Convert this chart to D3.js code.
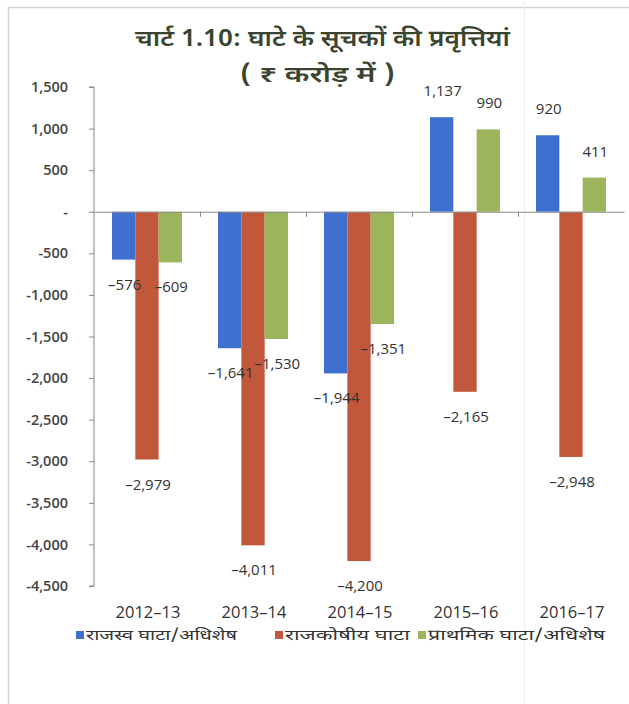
<!DOCTYPE html>
<html>
<head>
<meta charset="utf-8">
<script src="https://cdn.jsdelivr.net/npm/d3@7"></script>
<style>
  html, body { margin: 0; padding: 0; background: #fff; }
  svg { display: block; }
</style>
</head>
<body>
<svg id="chart" width="629" height="704"></svg>
<script>
const categories = ["2012-13", "2013-14", "2014-15", "2015-16", "2016-17"];
const seriesNames = ["राजस्व घाटा/अधिशेष", "राजकोषीय घाटा", "प्राथमिक घाटा/अधिशेष"];
const revenueDeficit = [-576, -1641, -1944, 1137, 920];
const fiscalDeficit = [-2979, -4011, -4200, -2165, -2948];
const primaryDeficit = [-609, -1530, -1351, 990, 411];
const yTicks = [1500, 1000, 500, 0, -500, -1000, -1500, -2000, -2500, -3000, -3500, -4000, -4500];
const titleLine1 = "चार्ट 1.10: घाटे के सूचकों की प्रवृत्तियां";
const titleLine2 = "( ₹  करोड़ में )";

const colors = ["#3f6fcf", "#c1583b", "#9cb45c"];
const seriesValues = [revenueDeficit, fiscalDeficit, primaryDeficit];

const svg = d3.select("#chart");
const hindiFont = "'Noto Sans Devanagari', 'Lohit Devanagari', 'Mukta', 'Noto Sans', sans-serif";
const numFont = "'Open Sans', 'Noto Sans', sans-serif";

// frame
svg.append("line").attr("x1", 8).attr("x2", 629).attr("y1", 7.5).attr("y2", 7.5)
  .attr("stroke", "#d4d4d4").attr("stroke-width", 1.5);
svg.append("line").attr("x1", 8.5).attr("x2", 8.5).attr("y1", 7).attr("y2", 704)
  .attr("stroke", "#d4d4d4").attr("stroke-width", 1.5);
svg.append("line").attr("x1", 524.5).attr("x2", 524.5).attr("y1", 0).attr("y2", 704)
  .attr("stroke", "#f0f0f0").attr("stroke-width", 1);

// title
svg.append("text").attr("x", 135).attr("y", 46)
  .attr("font-family", hindiFont).attr("font-size", 23).attr("font-weight", 600)
  .attr("fill", "#3b4430").attr("textLength", 375).attr("lengthAdjust", "spacingAndGlyphs")
  .text(titleLine1);
svg.append("text").attr("x", 240).attr("y", 82)
  .attr("font-family", hindiFont).attr("font-size", 23).attr("font-weight", 600)
  .attr("fill", "#3b4430").attr("textLength", 155).attr("lengthAdjust", "spacingAndGlyphs")
  .text(titleLine2);

const plotLeft = 94, plotRight = 624, plotTop = 87, plotBottom = 586;
const y = d3.scaleLinear().domain([-4500, 1500]).range([plotBottom, plotTop]);
const x0 = d3.scaleBand().domain(categories).range([plotLeft, plotRight]).paddingInner(0.34).paddingOuter(0.17);
const x1 = d3.scaleBand().domain(d3.range(3)).range([0, x0.bandwidth()]);
const xCat = d3.scaleBand().domain(categories).range([plotLeft, plotRight]);

// bars
const data = [];
categories.forEach((c, i) => {
  seriesValues.forEach((s, j) => data.push({ cat: c, s: j, v: s[i] }));
});

svg.append("g").selectAll("rect").data(data).join("rect")
  .attr("x", d => x0(d.cat) + x1(d.s))
  .attr("width", x1.bandwidth())
  .attr("y", d => Math.min(y(d.v), y(0)))
  .attr("height", d => Math.abs(y(d.v) - y(0)))
  .attr("fill", d => colors[d.s]);

// y axis
const yAxis = d3.axisLeft(y).tickValues(yTicks).tickSize(5).tickPadding(21)
  .tickFormat(v => v === 0 ? "-" : d3.format(",")(v).replace("−", "-"));
const gy = svg.append("g").attr("transform", `translate(${plotLeft},0)`).call(yAxis);
gy.select(".domain").attr("stroke", "#8a8a8a").attr("d", `M-5,${plotTop}H0V${plotBottom}H-5`);
gy.selectAll(".tick line").attr("stroke", "#8a8a8a");
gy.selectAll(".tick text").attr("font-family", numFont).attr("font-size", 14.5)
  .attr("font-weight", 600).attr("fill", "#444");

// x axis at zero
const xAxis = d3.axisBottom(xCat).tickSize(0).tickFormat("");
const gx = svg.append("g").attr("transform", `translate(0,${y(0)})`).call(xAxis);
gx.select(".domain").attr("stroke", "#8a8a8a");
gx.selectAll(".tick").remove();
gx.selectAll("line.sep").data(categories.slice(1)).join("line")
  .attr("class", "sep")
  .attr("x1", d => xCat(d) + 0.5).attr("x2", d => xCat(d) + 0.5)
  .attr("y1", 0).attr("y2", 5).attr("stroke", "#8a8a8a");

// category labels
svg.append("g").selectAll("text").data(categories).join("text")
  .attr("x", d => xCat(d) + xCat.bandwidth() / 2 + 1)
  .attr("y", 618).attr("text-anchor", "middle")
  .attr("font-family", numFont).attr("font-size", 16.5).attr("fill", "#333")
  .text(d => d.replace("-", "–"));

// data labels
svg.append("g").selectAll("text").data(data).join("text")
  .attr("x", d => x0(d.cat) + x1(d.s) + x1.bandwidth() / 2 + 1)
  .attr("y", d => d.v < 0 ? y(d.v) + 30 : y(d.v) - 21)
  .attr("text-anchor", "middle")
  .attr("font-family", numFont).attr("font-size", 15).attr("fill", "#333")
  .text(d => d3.format(",")(d.v).replace("−", "–"));

// legend
const legendX = [76, 275, 418];
const legendW = [151, 125, 177];
const lg = svg.append("g").selectAll("g").data(seriesNames).join("g")
  .attr("transform", (d, i) => `translate(${legendX[i]},640)`);
lg.append("rect").attr("x", 0).attr("y", -9).attr("width", 8).attr("height", 8)
  .attr("fill", (d, i) => colors[i]);
lg.append("text").attr("x", 10).attr("y", 0)
  .attr("font-family", hindiFont).attr("font-size", 15).attr("fill", "#333")
  .attr("textLength", (d, i) => legendW[i]).attr("lengthAdjust", "spacingAndGlyphs")
  .text(d => d);
</script>
</body>
</html>
